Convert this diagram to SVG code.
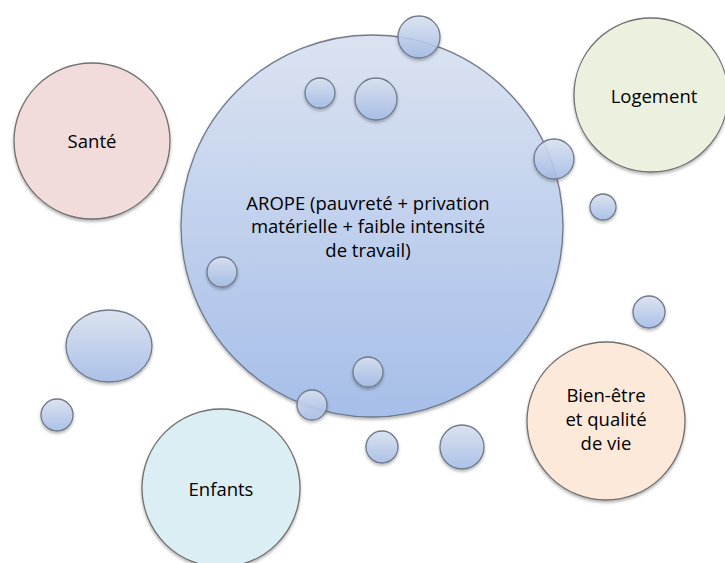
<svg xmlns="http://www.w3.org/2000/svg" width="725" height="563" viewBox="0 0 725 563">
<defs>
<linearGradient id="blue" x1="0" y1="0" x2="0" y2="1">
<stop offset="0" stop-color="#dbe3f1"/>
<stop offset="1" stop-color="#a6bee9"/>
</linearGradient>
<filter id="sh" x="-20%" y="-20%" width="140%" height="150%">
<feDropShadow dx="0" dy="2" stdDeviation="1.5" flood-color="#000" flood-opacity="0.3"/>
</filter>
<style>
.b{fill:url(#blue);stroke:#6f7a8a;stroke-width:1.3;filter:url(#sh)}
.s{fill:url(#blue);fill-opacity:0.88;stroke:#6f7a8a;stroke-width:1.3;filter:url(#sh)}
.n{stroke:#707070;stroke-width:1.3;filter:url(#sh)}
text{font-family:"Open Sans","Liberation Sans",sans-serif;font-size:18.5px;fill:#000;text-anchor:middle}
</style>
</defs>
<g id="sante"><circle class="n" cx="92" cy="141" r="78" fill="#f2dcdb"/><text x="92" y="148">Santé</text></g>
<g id="logement"><circle class="n" cx="651" cy="95" r="77" fill="#ebf1de"/><text x="654" y="103">Logement</text></g>
<g id="bienetre"><circle class="n" cx="606" cy="421" r="79" fill="#fde9d9"/><text x="606" y="402">Bien-être</text><text x="606" y="426">et qualité</text><text x="606" y="450">de vie</text></g>
<g id="enfants"><circle class="n" cx="221" cy="488" r="79" fill="#dbeef4"/><text x="221" y="496">Enfants</text></g>
<g id="arope"><circle class="b" cx="372" cy="226" r="191"/><text x="368" y="210">AROPE (pauvreté + privation</text><text x="368" y="233">matérielle + faible intensité</text><text x="368" y="257">de travail)</text></g>
<g id="bubbles">
<circle class="s" cx="419" cy="37" r="21"/>
<circle class="s" cx="320" cy="93" r="15"/>
<circle class="s" cx="376" cy="99" r="21"/>
<circle class="s" cx="554" cy="159" r="20"/>
<circle class="s" cx="603" cy="207" r="13"/>
<circle class="s" cx="222" cy="272" r="15"/>
<circle class="s" cx="649" cy="312" r="16"/>
<ellipse class="s" cx="109" cy="346" rx="43" ry="36"/>
<circle class="s" cx="57" cy="415" r="16"/>
<circle class="s" cx="368" cy="372" r="15"/>
<circle class="s" cx="312" cy="405" r="15"/>
<circle class="s" cx="382" cy="447" r="16"/>
<circle class="s" cx="462" cy="447" r="22"/>
</g>
<g id="connectors"/>
</svg>
